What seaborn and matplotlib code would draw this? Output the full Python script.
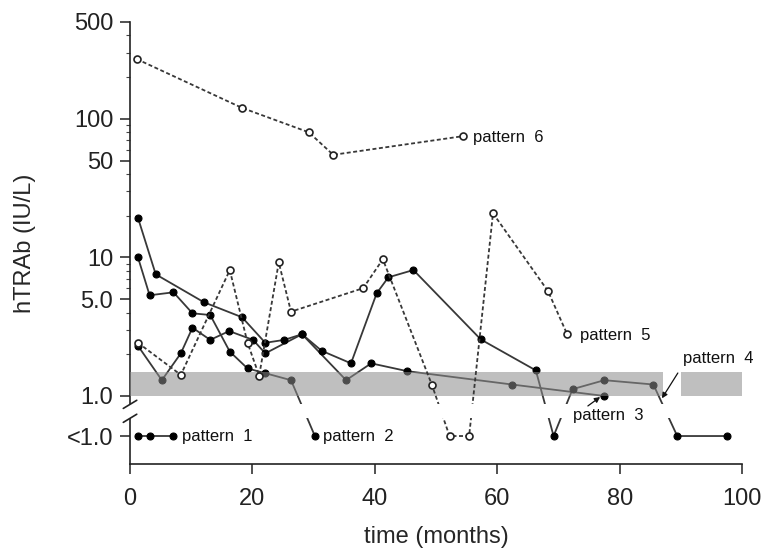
import numpy as np
import matplotlib
matplotlib.use("Agg")
import matplotlib.pyplot as plt
import matplotlib.transforms as mtransforms
import seaborn as sns
from matplotlib.ticker import FixedLocator, NullFormatter

# plotting position of the "<1.0" row (below the axis break)
BELOW = 0.514

# pattern 6 - persistently high (dashed, open circles)
p6_months = [1.1, 18.3, 29.2, 33.2, 54.4]
p6_values = [270, 120, 80, 55, 75]

# pattern 5 - fluctuating (dashed, open circles)
p5_months = [1.3, 8.3, 16.3, 19.2, 21.1, 24.3, 26.3, 38.1, 41.3, 49.3, 52.2, 55.4, 59.3, 68.3, 71.4]
p5_values = [2.42, 1.42, 8.1, 2.42, 1.40, 9.2, 4.06, 6.0, 9.7, 1.21, BELOW, BELOW, 20.8, 5.7, 2.8]

# pattern 4
p4_months = [1.3, 4.2, 12.1, 18.3, 22.1, 25.2, 28.1, 31.3, 36.1, 40.3, 42.2, 46.3,
             57.3, 66.3, 69.2, 72.3, 77.5, 85.5, 89.4, 97.5]
p4_values = [19.3, 7.55, 4.74, 3.70, 2.42, 2.54, 2.79, 2.12, 1.72, 5.51, 7.18, 8.11,
             2.56, 1.53, BELOW, 1.12, 1.30, 1.21, BELOW, BELOW]

# pattern 3
p3_months = [1.3, 5.2, 8.3, 10.2, 13.1, 16.2, 20.1, 22.1, 28.1, 35.3, 39.4, 45.3, 62.4, 77.5]
p3_values = [2.30, 1.30, 2.03, 3.11, 2.54, 2.94, 2.54, 2.03, 2.79, 1.30, 1.72, 1.51, 1.21, 1.0]

# pattern 2
p2_months = [1.3, 3.2, 7.1, 10.2, 13.1, 16.3, 19.2, 22.1, 26.3, 30.2]
p2_values = [10.0, 5.33, 5.60, 3.95, 3.84, 2.09, 1.58, 1.46, 1.30, BELOW]

# pattern 1 - always negative
p1_months = [1.3, 3.3, 7.0]
p1_values = [BELOW, BELOW, BELOW]

ytick_values = [BELOW, 1, 5, 10, 50, 100, 500]
ytick_labels = ["<1.0", "1.0", "5.0", "10", "50", "100", "500"]
xtick_values = [0, 20, 40, 60, 80, 100]

# cut-off zone (grey band)
cutoff_low, cutoff_high = 1.0, 1.5
band_spans = [(0, 87.1), (90, 100)]

sns.set_style("ticks")
plt.rcParams["font.family"] = ["Liberation Sans", "DejaVu Sans"]

fig = plt.figure(figsize=(7.68, 5.5), dpi=100)
ax = fig.add_axes([0.1693, 0.1564, 0.797, 0.8036])

solid = dict(estimator=None, sort=False, color="#383838", lw=1.3, marker="o", ms=5,
             mfc="black", mec="black", mew=0.8, zorder=2)
dashed = dict(estimator=None, sort=False, color="#383838", lw=1.3, marker="o", ms=5,
              mfc="white", mec="#222222", mew=1.2, linestyle=(0, (2.2, 1.4)), zorder=5)

for m, v in [(p1_months, p1_values), (p2_months, p2_values),
             (p3_months, p3_values), (p4_months, p4_values)]:
    sns.lineplot(x=m, y=v, ax=ax, **solid)
for m, v in [(p5_months, p5_values), (p6_months, p6_values)]:
    sns.lineplot(x=m, y=v, ax=ax, **dashed)

# grey band drawn on top of the solid lines (they show through darker)
for x0, x1 in band_spans:
    ax.fill_between([x0, x1], cutoff_low, cutoff_high, color="#8c8c8c", alpha=0.55,
                    lw=0, zorder=4)

ax.set_yscale("log")
ax.set_xlim(0, 100)
ax.set_ylim(0.323, 500)
sns.despine(ax=ax)

ax.set_yticks(ytick_values)
ax.set_yticklabels(ytick_labels)
minor = [s * d for d in (1, 10, 100) for s in range(2, 10) if s * d < 500]
ax.yaxis.set_minor_locator(FixedLocator(minor))
ax.yaxis.set_minor_formatter(NullFormatter())
ax.set_xticks(xtick_values)

ax.tick_params(axis="both", which="major", direction="out", length=7, width=1.1,
               labelsize=17, colors="#222222")
ax.tick_params(axis="x", pad=10)
ax.tick_params(axis="y", pad=5)
ax.tick_params(axis="y", which="minor", direction="out", length=3, width=0.8, colors="#444444")
for s in ("left", "bottom"):
    ax.spines[s].set_color("#222222")
    ax.spines[s].set_linewidth(1.2)

ax.set_xlabel("time (months)", fontsize=17, labelpad=12)
ax.set_ylabel("hTRAb (IU/L)", fontsize=17, labelpad=22)

# axis break between 1.0 and <1.0
gap_low, gap_high = 0.69, 0.87
ax.axhspan(gap_low, gap_high, xmin=-0.03, xmax=1.0, facecolor="white", edgecolor="none",
           zorder=6, clip_on=False)
trans = mtransforms.blended_transform_factory(ax.transAxes, ax.transData)
for yb in (gap_low, gap_high):
    ax.plot([-0.011, 0.011], [yb / 1.07, yb * 1.07], transform=trans, color="#222222",
            lw=1.2, clip_on=False, zorder=7)

# pattern labels
lab = dict(fontsize=12, va="center", ha="left", color="#111111", zorder=8)
ax.text(56.0, 73, "pattern  6", **lab)
ax.text(73.5, 2.75, "pattern  5", **lab)
ax.text(90.3, 1.85, "pattern  4", **lab)
ax.text(72.4, 0.717, "pattern  3", **lab)
ax.text(31.6, BELOW, "pattern  2", **lab)
ax.text(8.5, BELOW, "pattern  1", **lab)

arrow = dict(arrowstyle="-|>", lw=0.9, color="#111111", mutation_scale=8,
             shrinkA=0, shrinkB=0)
ax.annotate("", xy=(86.9, 0.962), xytext=(89.5, 1.465), arrowprops=arrow, zorder=8)
ax.annotate("", xy=(76.8, 0.983), xytext=(74.8, 0.847), arrowprops=arrow, zorder=8)

fig.savefig("out.png", dpi=100)
